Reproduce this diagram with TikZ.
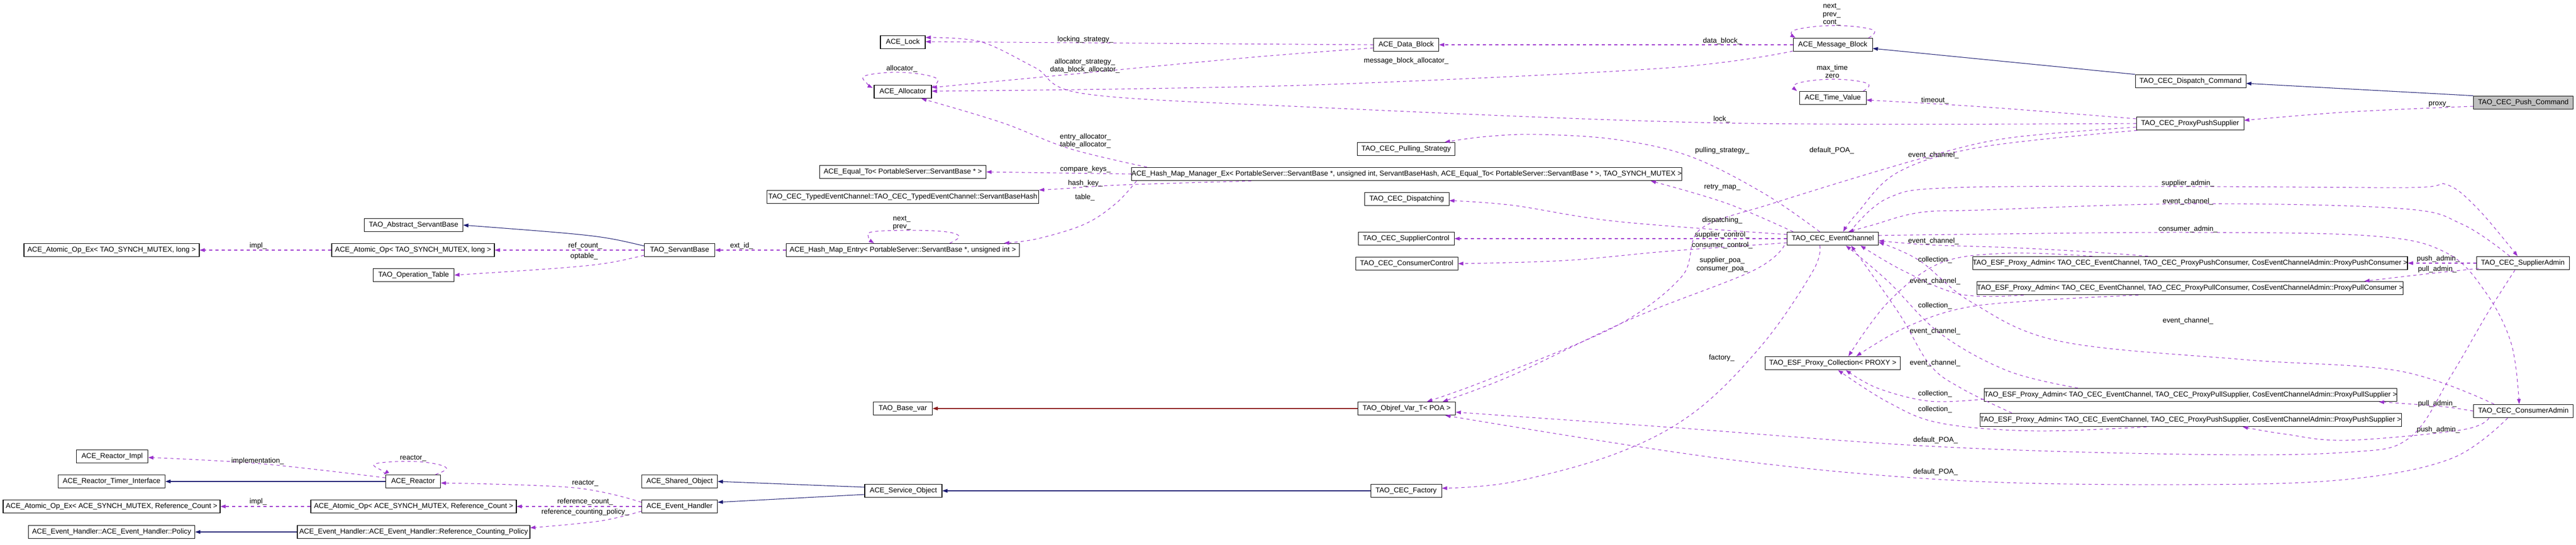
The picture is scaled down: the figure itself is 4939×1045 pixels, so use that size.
\documentclass[tikz,border=0pt]{standalone}
\usepackage{fontspec}
\setmainfont{Liberation Sans}
\usetikzlibrary{arrows.meta,calc}
\definecolor{pc}{HTML}{9A32CD}
\definecolor{bc}{HTML}{191970}
\definecolor{rc}{HTML}{8B1A1A}
\newcommand\bx[5]{\node[box, minimum width=#4*0.01cm] (#1) at (#2,#3) {#5};}
\newcommand\lb[3]{\node[lbl] at (#1,#2) {#3};}
\begin{document}
\begin{tikzpicture}[x=0.01cm,y=-0.01cm,
  box/.style={draw=black,line width=0.3pt,minimum height=0.255cm,inner sep=0pt,font=\fontsize{3.9}{4.3}\selectfont,fill=white},
  lbl/.style={font=\fontsize{3.9}{4.3}\selectfont,align=center,inner sep=0pt},
  dep/.style={draw=pc,line width=0.3pt,dash pattern=on 0.06cm off 0.06cm,-{Triangle[length=0.1cm,width=0.07cm]}},
  inh/.style={draw=bc,line width=0.3pt,-{Triangle[length=0.1cm,width=0.07cm]}},
  tpl/.style={draw=rc,line width=0.3pt,-{Triangle[length=0.1cm,width=0.07cm]}}]
\fill[white] (0,0) rectangle (4939,1045);
\useasboundingbox (0,0) rectangle (4939,1045);
% nodes
\bx{AtomicExL}{214}{480}{336}{ACE\_Atomic\_Op\_Ex< TAO\_SYNCH\_MUTEX, long >}
\bx{AtomicL}{792}{480}{312}{ACE\_Atomic\_Op< TAO\_SYNCH\_MUTEX, long >}
\bx{AbsSB}{793}{432}{189}{TAO\_Abstract\_ServantBase}
\bx{OpTab}{793}{528}{155}{TAO\_Operation\_Table}
\bx{SB}{1303}{480}{135}{TAO\_ServantBase}
\bx{HME}{1731}{480}{447}{ACE\_Hash\_Map\_Entry< PortableServer::ServantBase *, unsigned int >}
\bx{STH}{1731}{378}{521}{TAO\_CEC\_TypedEventChannel::TAO\_CEC\_TypedEventChannel::ServantBaseHash}
\bx{EqTo}{1731}{330}{319}{ACE\_Equal\_To< PortableServer::ServantBase * >}
\bx{Alloc}{1731}{176}{110}{ACE\_Allocator}
\bx{Lock}{1731}{81}{86}{ACE\_Lock}
\bx{HMM}{2697}{334}{1050}{ACE\_Hash\_Map\_Manager\_Ex< PortableServer::ServantBase *, unsigned int, ServantBaseHash, ACE\_Equal\_To< PortableServer::ServantBase * >, TAO\_SYNCH\_MUTEX >}
\bx{DB}{2696}{86}{125}{ACE\_Data\_Block}
\bx{MB}{3514}{86}{152}{ACE\_Message\_Block}
\bx{TV}{3514}{188}{128}{ACE\_Time\_Value}
\bx{PS}{2696}{286}{187}{TAO\_CEC\_Pulling\_Strategy}
\bx{Disp}{2697}{382}{162}{TAO\_CEC\_Dispatching}
\bx{SC}{2696}{458}{184}{TAO\_CEC\_SupplierControl}
\bx{CC}{2697}{506}{196}{TAO\_CEC\_ConsumerControl}
\bx{EC}{3514}{458}{175}{TAO\_CEC\_EventChannel}
\bx{Objref}{2697}{784}{187}{TAO\_Objref\_Var\_T< POA >}
\bx{Factory}{2696}{942}{136}{TAO\_CEC\_Factory}
\bx{BaseVar}{1731}{784}{113}{TAO\_Base\_var}
\bx{ServObj}{1732}{942}{148}{ACE\_Service\_Object}
\bx{SharedObj}{1303}{924}{145}{ACE\_Shared\_Object}
\bx{EH}{1303}{972}{145}{ACE\_Event\_Handler}
\bx{RImpl}{215}{876}{137}{ACE\_Reactor\_Impl}
\bx{RTI}{214}{924}{205}{ACE\_Reactor\_Timer\_Interface}
\bx{Reactor}{792}{924}{105}{ACE\_Reactor}
\bx{AtomicExRC}{214}{972}{416}{ACE\_Atomic\_Op\_Ex< ACE\_SYNCH\_MUTEX, Reference\_Count >}
\bx{AtomicRC}{793}{972}{394}{ACE\_Atomic\_Op< ACE\_SYNCH\_MUTEX, Reference\_Count >}
\bx{Policy}{214}{1021}{319}{ACE\_Event\_Handler::ACE\_Event\_Handler::Policy}
\bx{RCP}{793}{1021}{446}{ACE\_Event\_Handler::ACE\_Event\_Handler::Reference\_Counting\_Policy}
\bx{PColl}{3514}{697}{259}{TAO\_ESF\_Proxy\_Collection< PROXY >}
\bx{DispCmd}{4200}{156}{212}{TAO\_CEC\_Dispatch\_Command}
\node[box,fill={rgb,255:red,191;green,191;blue,191},minimum width=191*0.01cm] (PushCmd) at (4838,197) {TAO\_CEC\_Push\_Command};
\bx{PPS}{4199}{237}{206}{TAO\_CEC\_ProxyPushSupplier}
\bx{EPushC}{4199}{505}{830}{TAO\_ESF\_Proxy\_Admin< TAO\_CEC\_EventChannel, TAO\_CEC\_ProxyPushConsumer, CosEventChannelAdmin::ProxyPushConsumer >}
\bx{EPullC}{4199}{553}{814}{TAO\_ESF\_Proxy\_Admin< TAO\_CEC\_EventChannel, TAO\_CEC\_ProxyPullConsumer, CosEventChannelAdmin::ProxyPullConsumer >}
\bx{EPullS}{4200}{758}{788}{TAO\_ESF\_Proxy\_Admin< TAO\_CEC\_EventChannel, TAO\_CEC\_ProxyPullSupplier, CosEventChannelAdmin::ProxyPullSupplier >}
\bx{EPushS}{4200}{806}{804}{TAO\_ESF\_Proxy\_Admin< TAO\_CEC\_EventChannel, TAO\_CEC\_ProxyPushSupplier, CosEventChannelAdmin::ProxyPushSupplier >}
\bx{SA}{4837}{505}{178}{TAO\_CEC\_SupplierAdmin}
\bx{CA}{4838}{789}{191}{TAO\_CEC\_ConsumerAdmin}
% inheritance
\draw[inh] ($(SB.west)+(0,-8)$) .. controls (1150,452) .. (AbsSB.east);
\draw[inh] (Reactor.west) -- (RTI.east);
\draw[inh] (RCP.west) -- (Policy.east);
\draw[inh] ($(ServObj.west)+(0,-7)$) -- (SharedObj.east);
\draw[inh] ($(ServObj.west)+(0,7)$) -- ($(EH.east)+(0,-8)$);
\draw[inh] (Factory.west) -- (ServObj.east);
\draw[inh] (DispCmd.north west) -- ($(MB.east)+(0,7)$);
\draw[inh] (PushCmd.north west) -- ($(DispCmd.east)+(0,4)$);
\draw[tpl] (Objref.west) -- (BaseVar.east);
% dependencies
\draw[dep] (AtomicL.west) -- (AtomicExL.east); \lb{495}{472}{impl\_}
\draw[dep] (SB.west) -- (AtomicL.east); \lb{1122}{472}{ref\_count\_}
\draw[dep] ($(SB.west)+(0,10)$) .. controls (1150,510) .. (OpTab.east); \lb{1120}{492}{optable\_}
\draw[dep] (HME.west) -- (SB.east); \lb{1422}{472}{ext\_id\_}
\draw[dep] plot[smooth,tension=0.7] coordinates {($(HME.north)+(90,0)$) (1838,452) (1790,443) (1680,444) (1665,455) ($(HME.north)+(-55,0)$)}; \lb{1729}{428}{next\_\\prev\_}
\draw[dep] plot[smooth,tension=0.6] coordinates {($(HMM.south west)+(10,0)$) (2140,390) (2080,430) (1990,458) ($(HME.north east)+(-30,0)$)}; \lb{2080}{379}{table\_}
\draw[dep] plot[smooth,tension=0.6] coordinates {($(HMM.south west)+(230,0)$) (2150,355) (2040,362) (STH.north east)}; \lb{2081}{352}{hash\_key\_}
\draw[dep] (HMM.west) -- (EqTo.east); \lb{2081}{325}{compare\_keys\_}
\draw[dep] plot[smooth,tension=0.6] coordinates {($(HMM.north west)+(30,0)$) (2050,285) (1920,235) ($(Alloc.south east)+(-20,0)$)}; \lb{2081}{270}{entry\_allocator\_\\table\_allocator\_}
\draw[dep] plot[smooth,tension=0.7] coordinates {($(Alloc.north east)+(0,5)$) (1795,150) (1730,139) (1660,145) (1662,160) ($(Alloc.north west)+(-2,6)$)}; \lb{1729}{132}{allocator\_}
\draw[dep] (DB.west) -- ($(Lock.east)+(0,-1)$); \lb{2081}{76}{locking\_strategy\_}
\draw[dep] plot[smooth,tension=0.6] coordinates {($(DB.west)+(0,6)$) (2400,110) (2080,140) ($(Alloc.east)+(0,-8)$)}; \lb{2080}{126}{allocator\_strategy\_\\data\_block\_allocator\_}
\draw[dep] (MB.west) -- (DB.east); \lb{3302}{79}{data\_block\_}
\draw[dep] plot[smooth,tension=0.6] coordinates {($(MB.west)+(0,12)$) (3200,130) (2600,160) (2200,170) ($(Alloc.east)+(0,-1)$)}; \lb{2696}{117}{message\_block\_allocator\_}
\draw[dep] plot[smooth,tension=0.7] coordinates {($(MB.north east)+(-8,0)$) (3590,57) (3515,49) (3440,58) ($(MB.north west)+(5,0)$)}; \lb{3512}{28}{next\_\\prev\_\\cont\_}
\draw[dep] plot[smooth,tension=0.7] coordinates {($(TV.north east)+(-6,0)$) (3580,160) (3515,152) (3446,160) ($(TV.north west)+(-4,0)$)}; \lb{3513}{137}{max\_time\\zero}
\draw[dep] plot[smooth,tension=0.6] coordinates {($(PPS.west)+(0,-9)$) (3800,205) ($(TV.east)+(0,4)$)}; \lb{3710}{193}{timeout\_}
\draw[dep] plot[smooth,tension=0.55] coordinates {(PPS.west) (3300,236) (2500,205) (2080,180) (1985,130) (1880,80) ($(Lock.east)+(0,-9)$)}; \lb{3301}{229}{lock\_}
\draw[dep] plot[smooth,tension=0.55] coordinates {($(PPS.west)+(0,7)$) (3850,265) (3680,305) (3400,390) (3260,440) (3225,530) (3100,625) (2850,730) ($(Objref.north east)+(-55,0)$)}; \lb{3512}{289}{default\_POA\_}
\draw[dep] plot[smooth,tension=0.6] coordinates {($(PPS.south west)+(2,0)$) (3800,282) (3640,330) (3560,410) ($(EC.north)+(20,0)$)}; \lb{3707}{298}{event\_channel\_}
\draw[dep] plot[smooth,tension=0.6] coordinates {($(PushCmd.west)+(0,7)$) (4500,215) ($(PPS.east)+(0,-6)$)}; \lb{4677}{200}{proxy\_}
\draw[dep] plot[smooth,tension=0.6] coordinates {($(EC.north)+(-25,0)$) (3380,370) (3240,300) (3100,268) (2950,258) (2850,262) ($(PS.north east)+(-20,0)$)}; \lb{3302}{289}{pulling\_strategy\_}
\draw[dep] plot[smooth,tension=0.6] coordinates {($(EC.north west)+(12,0)$) (3310,390) ($(HMM.south east)+(-60,0)$)}; \lb{3302}{359}{retry\_map\_}
\draw[dep] plot[smooth,tension=0.6] coordinates {($(EC.west)+(0,-8)$) (3100,425) (2900,394) ($(Disp.east)+(0,3)$)}; \lb{3302}{423}{dispatching\_}
\draw[dep] (EC.west) -- (SC.east); \lb{3302}{451}{supplier\_control\_}
\draw[dep] plot[smooth,tension=0.6] coordinates {($(EC.west)+(0,8)$) (3200,482) (3000,500) (CC.east)}; \lb{3302}{471}{consumer\_control\_}
\draw[dep] plot[smooth,tension=0.6] coordinates {($(EC.south west)+(-5,0)$) (3360,520) (3130,611) (2900,720) ($(Objref.north east)+(-25,0)$)}; \lb{3302}{508}{supplier\_poa\_\\consumer\_poa\_}
\draw[dep] plot[smooth,tension=0.6] coordinates {($(EC.south)+(-25,0)$) (3476,520) (3380,660) (3250,790) (3100,870) (2900,925) ($(Factory.east)+(0,-5)$)}; \lb{3301}{687}{factory\_}
\draw[dep] plot[smooth,tension=0.6] coordinates {($(EC.north east)+(-55,0)$) (3620,380) (3750,360) (4200,358) (4620,360) (4690,354) (4750,400) ($(SA.north)+(-10,0)$)}; \lb{4195}{352}{supplier\_admin\_}
\draw[dep] plot[smooth,tension=0.6] coordinates {($(SA.north)+(-25,0)$) (4720,430) (4600,400) (4200,391) (3800,403) (3680,408) (3590,432) ($(EC.north)+(30,0)$)}; \lb{4195}{387}{event\_channel\_}
\draw[dep] plot[smooth,tension=0.6] coordinates {($(EC.east)+(0,-6)$) (3750,450) (4200,446) (4550,453) (4690,485) (4765,560) (4815,660) ($(CA.north)+(-8,0)$)}; \lb{4195}{440}{consumer\_admin\_}
\draw[dep] plot[smooth,tension=0.6] coordinates {($(CA.north west)+(40,0)$) (4600,712) (4300,690) (3950,655) (3780,580) (3680,500) ($(EC.east)+(0,7)$)}; \lb{4195}{616}{event\_channel\_}
\draw[dep] (SA.west) -- (EPushC.east); \lb{4675}{497}{push\_admin\_}
\draw[dep] plot[smooth,tension=0.6] coordinates {($(SA.south west)+(5,-3)$) (4650,526) ($(EPullC.north east)+(-75,0)$)}; \lb{4673}{517}{pull\_admin\_}
\draw[dep] plot[smooth,tension=0.6] coordinates {(CA.west) (4680,780) ($(EPullS.south east)+(-35,0)$)}; \lb{4673}{775}{pull\_admin\_}
\draw[dep] plot[smooth,tension=0.6] coordinates {($(CA.south west)+(30,0)$) (4720,825) (4500,845) (4380,833) ($(EPushS.south)+(100,0)$)}; \lb{4675}{825}{push\_admin\_}
\draw[dep] plot[smooth,tension=0.6] coordinates {($(SA.south)+(-15,0)$) (4770,600) (4700,720) (4620,840) (4500,868) (4200,872) (3711,857) (3200,820) ($(Objref.east)+(0,7)$)}; \lb{3711}{845}{default\_POA\_}
\draw[dep] plot[smooth,tension=0.6] coordinates {($(CA.south)+(-30,0)$) (4700,880) (4500,920) (4200,930) (3750,922) (3300,880) ($(Objref.south east)+(-20,0)$)}; \lb{3711}{906}{default\_POA\_}
\draw[dep] plot[smooth,tension=0.6] coordinates {($(EPushC.north west)+(337,0)$) (4000,483) (3850,475) (3700,470) ($(EC.east)+(0,4)$)}; \lb{3707}{463}{event\_channel\_}
\draw[dep] plot[smooth,tension=0.6] coordinates {($(EPushC.north west)+(230,0)$) (3850,486) (3720,505) (3620,580) ($(PColl.north)+(30,0)$)}; \lb{3710}{499}{collection\_}
\draw[dep] plot[smooth,tension=0.6] coordinates {($(EPullC.south west)+(90,0)$) (3760,565) (3650,520) ($(EC.south east)+(-35,0)$)}; \lb{3710}{540}{event\_channel\_}
\draw[dep] plot[smooth,tension=0.6] coordinates {($(EPullC.south west)+(310,0)$) (3900,577) (3760,592) (3650,630) ($(PColl.north)+(45,0)$)}; \lb{3710}{587}{collection\_}
\draw[dep] plot[smooth,tension=0.6] coordinates {($(EPullS.north west)+(180,0)$) (3850,712) (3720,640) (3620,540) ($(EC.south)+(25,0)$)}; \lb{3710}{636}{event\_channel\_}
\draw[dep] plot[smooth,tension=0.6] coordinates {($(EPullS.west)+(0,8)$) (3700,770) (3600,745) ($(PColl.south)+(25,0)$)}; \lb{3710}{756}{collection\_}
\draw[dep] plot[smooth,tension=0.6] coordinates {($(EPushS.north west)+(62,0)$) (3760,745) (3700,700) (3640,600) ($(EC.south)+(35,0)$)}; \lb{3710}{697}{event\_channel\_}
\draw[dep] plot[smooth,tension=0.6] coordinates {($(EPushS.south west)+(320,0)$) (3900,827) (3720,812) (3620,772) ($(PColl.south)+(10,0)$)}; \lb{3710}{786}{collection\_}
\draw[dep] plot[smooth,tension=0.6] coordinates {($(EH.west)+(0,-8)$) (1100,936) ($(Reactor.east)+(0,3)$)}; \lb{1122}{927}{reactor\_}
\draw[dep] (EH.west) -- (AtomicRC.east); \lb{1122}{963}{reference\_count\_}
\draw[dep] plot[smooth,tension=0.6] coordinates {($(EH.west)+(0,9)$) (1150,1000) ($(RCP.east)+(0,-8)$)}; \lb{1122}{983}{reference\_counting\_policy\_}
\draw[dep] (AtomicRC.west) -- (AtomicExRC.east); \lb{495}{963}{impl\_}
\draw[dep] plot[smooth,tension=0.6] coordinates {($(Reactor.west)+(0,-7)$) (500,890) ($(RImpl.east)+(0,2)$)}; \lb{494}{885}{implementation\_}
\draw[dep] plot[smooth,tension=0.7] coordinates {($(Reactor.north east)+(-10,0)$) (855,897) (800,886) (720,890) (735,905) ($(Reactor.north west)+(-3,0)$)}; \lb{792}{879}{reactor\_}
\end{tikzpicture}
\end{document}
